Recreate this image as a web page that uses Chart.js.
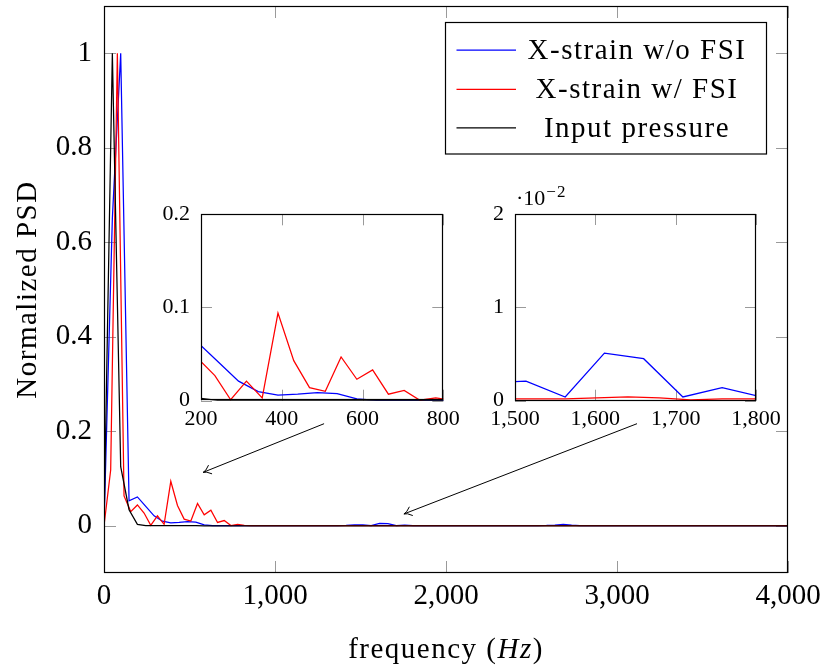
<!DOCTYPE html>
<html><head><meta charset="utf-8">
<script src="https://cdn.jsdelivr.net/npm/chart.js@4.4.1/dist/chart.umd.min.js"></script>
<style>
html,body{margin:0;padding:0;background:#fff;}
#wrap{position:relative;width:824px;height:666px;overflow:hidden;}
canvas{position:absolute;}
</style></head><body>
<div id="wrap">
<canvas id="mainChart" style="left:0;top:0;"></canvas>
<canvas id="inset1" style="left:140px;top:200px;"></canvas>
<canvas id="inset2" style="left:460px;top:180px;"></canvas>
</div>
<script>
// ---------- data ----------
const seriesNames = ['X-strain w/o FSI', 'X-strain w/ FSI', 'Input pressure'];
const seriesColors = ['#0000ff', '#ff0000', '#000000'];

// frequency resolution of each series (Hz per sample)
const blueStep = 48.828125;
const redStep = 39.0625;
const blackStep = 48.828125;

const blueValues = [
  0, 0.65, 1.0, 0.053, 0.061, 0.041, 0.021, 0.0097, 0.006, 0.007,
  0.0086, 0.0075, 0.002, 0.0004, 0.0002, 0.0002, 0.0001, 0.0001, 0.0002, 0.0001,
  0.0001, 0.0002, 0.0001, 0.0001, 0.0002, 0.0002, 0.0003, 0.0003, 0.0005, 0.0009,
  0.0019, 0.0021, 0.0004, 0.0051, 0.0045, 0.0004, 0.0014, 0.0004, 0.0003, 0.0002,
  0.0002, 0.0003, 0.0002, 0.0002, 0.0001, 0.0002, 0.0002, 0.0001, 0.0002, 0.0002,
  0.0003, 0.0002, 0.0004, 0.0006, 0.0012, 0.0028, 0.0012, 0.0004, 0.0002, 0.0002,
  0.0001, 0.0002, 0.0001, 0.0001, 0.0002, 0.0001, 0.0001, 0.0001, 0.0002, 0.0001,
  0.0001, 0.0001, 0.0001, 0.0002, 0.0001, 0.0001, 0.0001, 0.0001, 0.0001, 0.0001,
  0.0001, 0.0001, 0.0001
];
const redValues = [
  0, 0.118, 1.0, 0.063, 0.030, 0.044, 0.027, 0.001, 0.021, 0.003,
  0.094, 0.043, 0.014, 0.010, 0.047, 0.023, 0.033, 0.007, 0.011, 0.0005,
  0.003, 0.0006, 0.0003, 0.0002, 0.0002, 0.0003, 0.0002, 0.0002, 0.0002, 0.0002,
  0.0002, 0.0002, 0.0002, 0.0002, 0.0002, 0.0002, 0.0002, 0.0002, 0.0002, 0.0002,
  0.0002, 0.0003, 0.0004, 0.0003, 0.0001, 0.0002, 0.0002, 0.0002, 0.0002, 0.0002,
  0.0002, 0.0002, 0.0002, 0.0002, 0.0002, 0.0002, 0.0002, 0.0002, 0.0002, 0.0002,
  0.0002, 0.0002, 0.0002, 0.0002, 0.0002, 0.0002, 0.0002, 0.0002, 0.0002, 0.0002,
  0.0001, 0.0001, 0.0001, 0.0001, 0.0001, 0.0001, 0.0001, 0.0001, 0.0001, 0.0001,
  0.0001, 0.0001, 0.0001, 0.0001, 0.0001, 0.0001, 0.0001, 0.0001, 0.0001, 0.0001,
  0.0001, 0.0001, 0.0001, 0.0001, 0.0001, 0.0001, 0.0001, 0.0001, 0.0001, 0.0001,
  0.0001, 0.0001, 0.0001, 0.0001
];
const blackValues = [
  0, 1.0, 0.125, 0.034, 0.0028, 0.0002, 0.0001, 0.0001, 0.0001, 0.0001,
  0.0001, 0.0001, 0, 0, 0, 0, 0, 0, 0, 0,
  0, 0, 0, 0, 0, 0, 0, 0, 0, 0,
  0, 0, 0, 0, 0, 0, 0, 0, 0, 0,
  0, 0, 0, 0, 0, 0, 0, 0, 0, 0,
  0, 0, 0, 0, 0, 0, 0, 0, 0, 0,
  0, 0, 0, 0, 0, 0, 0, 0, 0, 0,
  0, 0, 0, 0, 0, 0, 0, 0, 0, 0,
  0, 0, 0
];

// axis ticks
const mainXTicks = [0, 1000, 2000, 3000, 4000];
const mainYTicks = [0, 0.2, 0.4, 0.6, 0.8, 1];
const inset1XTicks = [200, 400, 600, 800];
const inset1YTicks = [0, 0.1, 0.2];
const inset2XTicks = [1500, 1600, 1700, 1800];
const inset2YTicks = [0, 0.01, 0.02];

// ---------- helpers ----------
const FONT = "'Liberation Serif', 'Times New Roman', serif";
function toPoints(values, step) { return values.map((v, i) => ({ x: i * step, y: v })); }
const stepList = [blueStep, redStep, blackStep];
const valueList = [blueValues, redValues, blackValues];

function makeDatasets() {
  return valueList.map((vals, k) => ({
    label: seriesNames[k],
    data: toPoints(vals, stepList[k]),
    borderColor: seriesColors[k],
    backgroundColor: seriesColors[k],
    borderWidth: 1.25,
    pointRadius: 0,
    tension: 0,
    fill: false,
    order: 2 - k
  }));
}

const framePlugin = {
  id: 'frame',
  beforeDraw(chart, args, o) {
    const { ctx, chartArea: a } = chart;
    if (o.fillWhite) {
      ctx.save(); ctx.fillStyle = '#fff';
      ctx.fillRect(a.left, a.top, a.right - a.left, a.bottom - a.top);
      ctx.restore();
    }
  },
  beforeDatasetsDraw(chart, args, o) {
    const { ctx, chartArea: a, scales: { x, y } } = chart;
    ctx.save();
    ctx.strokeStyle = '#9a9a9a'; ctx.lineWidth = 1;
    ctx.beginPath();
    o.xTicks.forEach(v => {
      const px = Math.round(x.getPixelForValue(v)) + 0.5;
      ctx.moveTo(px, a.bottom); ctx.lineTo(px, a.bottom - o.len);
      ctx.moveTo(px, a.top); ctx.lineTo(px, a.top + o.len);
    });
    o.yTicks.forEach(v => {
      const py = Math.round(y.getPixelForValue(v)) + 0.5;
      ctx.moveTo(a.left, py); ctx.lineTo(a.left + o.len, py);
      ctx.moveTo(a.right, py); ctx.lineTo(a.right - o.len, py);
    });
    ctx.stroke();
    ctx.restore();
  },
  afterDatasetsDraw(chart, args, o) {
    const { ctx, chartArea: a } = chart;
    ctx.save();
    ctx.strokeStyle = '#000'; ctx.lineWidth = 1.2;
    ctx.strokeRect(Math.round(a.left) + 0.5, Math.round(a.top) + 0.5,
      Math.round(a.right - a.left) - 1, Math.round(a.bottom - a.top) - 1);
    ctx.restore();
  }
};

function makeChart(id, W, H, area, cfg) {
  const cv = document.getElementById(id);
  cv.width = W; cv.height = H; cv.style.width = W + 'px'; cv.style.height = H + 'px';
  return new Chart(cv, {
    type: 'line',
    data: { datasets: makeDatasets() },
    options: {
      responsive: false, animation: false, devicePixelRatio: 1,
      layout: { padding: { left: 0, top: area.t, right: W - area.r, bottom: 0 } },
      plugins: {
        legend: { display: false }, tooltip: { enabled: false },
        frame: { xTicks: cfg.xTicks, yTicks: cfg.yTicks, len: cfg.tickLen, fillWhite: cfg.fillWhite }
      },
      scales: {
        x: {
          type: 'linear', min: cfg.xmin, max: cfg.xmax,
          grid: { display: false, drawTicks: false }, border: { display: false },
          afterBuildTicks: s => { s.ticks = cfg.xTicks.map(v => ({ value: v })); },
          afterFit: s => { s.height = H - area.b; s.paddingLeft = 0; s.paddingRight = 0; s.paddingTop = 0; s.paddingBottom = 0; },
          ticks: { padding: cfg.xPad, autoSkip: false, maxRotation: 0, color: '#000',
            font: { family: FONT, size: cfg.fontSize }, callback: cfg.xFmt }
        },
        y: {
          type: 'linear', min: cfg.ymin, max: cfg.ymax,
          grid: { display: false, drawTicks: false }, border: { display: false },
          afterBuildTicks: s => { s.ticks = cfg.yTicks.map(v => ({ value: v })); },
          afterFit: s => { s.width = area.l; s.paddingLeft = 0; s.paddingRight = 0; s.paddingTop = 0; s.paddingBottom = 0; },
          ticks: { padding: cfg.yPad, autoSkip: false, color: '#000',
            font: { family: FONT, size: cfg.fontSize }, callback: cfg.yFmt }
        }
      }
    },
    plugins: [framePlugin, ...(cfg.extra || [])]
  });
}

const thousands = v => Number(v).toLocaleString('en-US');

// main overlay: axis titles, legend, arrows
const mainDecor = {
  id: 'mainDecor',
  afterDraw(chart) {
    const { ctx, chartArea: a, scales: { x, y } } = chart;
    ctx.save();
    ctx.fillStyle = '#000';
    ctx.letterSpacing = '1.5px';
    // x title with italic Hz
    const parts = [['frequency (', ''], ['Hz', 'italic '], [')', '']];
    let total = 0;
    parts.forEach(p => { ctx.font = p[1] + '29px ' + FONT; total += ctx.measureText(p[0]).width; });
    let cx = (a.left + a.right) / 2 - total / 2;
    ctx.textBaseline = 'alphabetic'; ctx.textAlign = 'left';
    parts.forEach(p => { ctx.font = p[1] + '29px ' + FONT; ctx.fillText(p[0], cx, 658); cx += ctx.measureText(p[0]).width; });
    // y title
    ctx.save();
    ctx.translate(36, (a.top + a.bottom) / 2);
    ctx.rotate(-Math.PI / 2);
    ctx.font = '29px ' + FONT; ctx.textAlign = 'center';
    ctx.fillText('Normalized PSD', 0, 0);
    ctx.restore();
    // legend
    const lx = 445.5, ly = 22.5, lw = 321, lh = 131.5;
    ctx.fillStyle = '#fff'; ctx.fillRect(lx, ly, lw, lh);
    ctx.strokeStyle = '#000'; ctx.lineWidth = 1.2; ctx.strokeRect(lx, ly, lw, lh);
    const rowsLine = [50, 89.3, 127.8];
    const rowsText = [58.8, 97.8, 136.8];
    ctx.font = '29px ' + FONT; ctx.textAlign = 'center'; ctx.fillStyle = '#000';
    for (let k = 0; k < 3; k++) {
      ctx.strokeStyle = seriesColors[k]; ctx.lineWidth = 1.25;
      ctx.beginPath(); ctx.moveTo(456.5, rowsLine[k]); ctx.lineTo(516, rowsLine[k]); ctx.stroke();
      ctx.fillText(seriesNames[k], 637, rowsText[k]);
    }
    ctx.letterSpacing = '0px';
    // arrows (data coordinates)
    const arrows = [[[1287, 0.216], [580, 0.113]], [[3117, 0.216], [1754, 0.025]]];
    ctx.strokeStyle = '#000'; ctx.lineWidth = 1;
    arrows.forEach(([s, t]) => {
      const x0 = x.getPixelForValue(s[0]), y0 = y.getPixelForValue(s[1]);
      const x1 = x.getPixelForValue(t[0]), y1 = y.getPixelForValue(t[1]);
      ctx.beginPath(); ctx.moveTo(x0, y0); ctx.lineTo(x1, y1); ctx.stroke();
      const ang = Math.atan2(y0 - y1, x0 - x1);
      const L = 9, spread = 0.55;
      ctx.beginPath();
      ctx.moveTo(x1 + L * Math.cos(ang + spread), y1 + L * Math.sin(ang + spread));
      ctx.quadraticCurveTo(x1 + 3 * Math.cos(ang), y1 + 3 * Math.sin(ang), x1, y1);
      ctx.quadraticCurveTo(x1 + 3 * Math.cos(ang), y1 + 3 * Math.sin(ang),
        x1 + L * Math.cos(ang - spread), y1 + L * Math.sin(ang - spread));
      ctx.stroke();
    });
    ctx.restore();
  }
};

const inset2Decor = {
  id: 'inset2Decor',
  afterDraw(chart) {
    const { ctx, chartArea: a } = chart;
    ctx.save(); ctx.fillStyle = '#000'; ctx.textAlign = 'left'; ctx.textBaseline = 'alphabetic';
    ctx.font = '22px ' + FONT;
    ctx.fillText('\u00b710', a.left + 1, 25);
    const w = ctx.measureText('\u00b710').width;
    ctx.font = '17px ' + FONT;
    ctx.letterSpacing = '1px';
    ctx.fillText('\u22122', a.left + 1 + w + 1, 16.5);
    ctx.restore();
  }
};

makeChart('mainChart', 824, 666, { l: 104, t: 6, r: 788, b: 573 }, {
  xmin: 0, xmax: 4000, ymin: -0.1, ymax: 1.1, xTicks: mainXTicks, yTicks: mainYTicks,
  tickLen: 12, fontSize: 29, xPad: 6, yPad: 12, xFmt: thousands, yFmt: v => String(v),
  extra: [mainDecor]
});
makeChart('inset1', 330, 230, { l: 61, t: 14.3, r: 303.3, b: 200.7 }, {
  xmin: 200, xmax: 800, ymin: 0, ymax: 0.2, xTicks: inset1XTicks, yTicks: inset1YTicks,
  tickLen: 11, fontSize: 22, xPad: 5, yPad: 11, xFmt: thousands, yFmt: v => String(v),
  fillWhite: true
});
makeChart('inset2', 340, 250, { l: 55, t: 34, r: 296, b: 220.7 }, {
  xmin: 1500, xmax: 1800, ymin: 0, ymax: 0.02, xTicks: inset2XTicks, yTicks: inset2YTicks,
  tickLen: 11, fontSize: 22, xPad: 5, yPad: 11, xFmt: thousands, yFmt: v => String(Math.round(v * 100)),
  fillWhite: true, extra: [inset2Decor]
});
</script>
</body></html>
